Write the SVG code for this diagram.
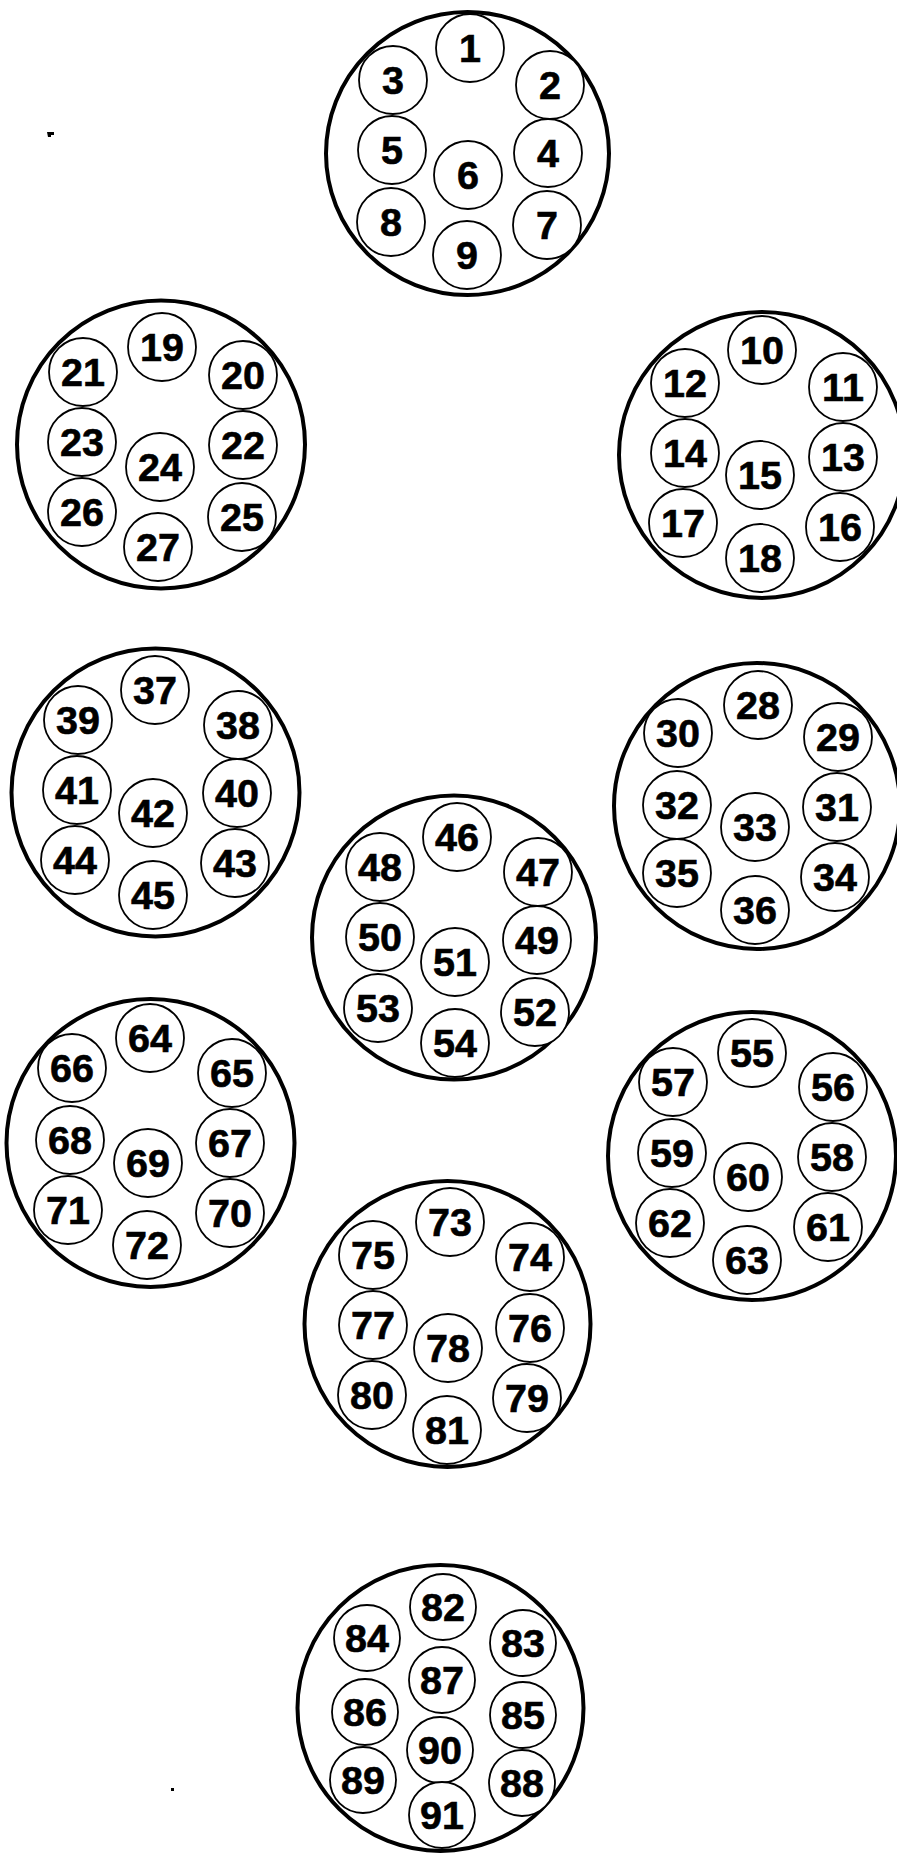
<svg xmlns="http://www.w3.org/2000/svg" width="897" height="1854" viewBox="0 0 897 1854">
<style>
.shell{fill:#fff;stroke:#000;stroke-width:4}
.pin circle{fill:#fff;stroke:#000;stroke-width:1.8}
.pin text{font-family:"Liberation Sans",Arial,sans-serif;font-weight:bold;font-size:39.5px;text-anchor:middle;fill:#000;stroke:#000;stroke-width:0.6}
</style>
<rect width="897" height="1854" fill="#fff"/>
<g id="connectors"></g>
<path d="M47,132 h7 v3 h-3 v2 h-3 z" fill="#000"/>
<rect x="171" y="1788" width="3" height="3" fill="#000"/>

<g id="conn1">
<circle class="shell" cx="467.5" cy="153.5" r="141.5"/>
<g id="p1" class="pin"><circle cx="470" cy="48" r="34"/><text x="470" y="62">1</text></g>
<g id="p2" class="pin"><circle cx="550" cy="85" r="34"/><text x="550" y="99">2</text></g>
<g id="p3" class="pin"><circle cx="393" cy="80" r="34"/><text x="393" y="94">3</text></g>
<g id="p4" class="pin"><circle cx="548" cy="153" r="34"/><text x="548" y="167">4</text></g>
<g id="p5" class="pin"><circle cx="392" cy="150" r="34"/><text x="392" y="164">5</text></g>
<g id="p6" class="pin"><circle cx="468" cy="175" r="34"/><text x="468" y="189">6</text></g>
<g id="p7" class="pin"><circle cx="547" cy="225" r="34"/><text x="547" y="239">7</text></g>
<g id="p8" class="pin"><circle cx="391" cy="222" r="34"/><text x="391" y="236">8</text></g>
<g id="p9" class="pin"><circle cx="467" cy="255" r="34"/><text x="467" y="269">9</text></g>
</g>

<g id="conn2">
<circle class="shell" cx="161" cy="444.5" r="144"/>
<g id="p19" class="pin"><circle cx="162" cy="347" r="34"/><text x="162" y="361">19</text></g>
<g id="p20" class="pin"><circle cx="243" cy="375" r="34"/><text x="243" y="389">20</text></g>
<g id="p21" class="pin"><circle cx="83" cy="372" r="34"/><text x="83" y="386">21</text></g>
<g id="p22" class="pin"><circle cx="243" cy="445" r="34"/><text x="243" y="459">22</text></g>
<g id="p23" class="pin"><circle cx="82" cy="442" r="34"/><text x="82" y="456">23</text></g>
<g id="p24" class="pin"><circle cx="160" cy="467" r="34"/><text x="160" y="481">24</text></g>
<g id="p25" class="pin"><circle cx="242" cy="517" r="34"/><text x="242" y="531">25</text></g>
<g id="p26" class="pin"><circle cx="82" cy="512" r="34"/><text x="82" y="526">26</text></g>
<g id="p27" class="pin"><circle cx="158" cy="547" r="34"/><text x="158" y="561">27</text></g>
</g>

<g id="conn3">
<circle class="shell" cx="762" cy="455" r="143"/>
<g id="p10" class="pin"><circle cx="762" cy="350" r="34"/><text x="762" y="364">10</text></g>
<g id="p11" class="pin"><circle cx="843" cy="387" r="34"/><text x="843" y="401">11</text></g>
<g id="p12" class="pin"><circle cx="685" cy="383" r="34"/><text x="685" y="397">12</text></g>
<g id="p13" class="pin"><circle cx="843" cy="457" r="34"/><text x="843" y="471">13</text></g>
<g id="p14" class="pin"><circle cx="685" cy="453" r="34"/><text x="685" y="467">14</text></g>
<g id="p15" class="pin"><circle cx="760" cy="475" r="34"/><text x="760" y="489">15</text></g>
<g id="p16" class="pin"><circle cx="840" cy="527" r="34"/><text x="840" y="541">16</text></g>
<g id="p17" class="pin"><circle cx="683" cy="523" r="34"/><text x="683" y="537">17</text></g>
<g id="p18" class="pin"><circle cx="760" cy="558" r="34"/><text x="760" y="572">18</text></g>
</g>

<g id="conn4">
<circle class="shell" cx="155.5" cy="792.5" r="144"/>
<g id="p37" class="pin"><circle cx="155" cy="690" r="34"/><text x="155" y="704">37</text></g>
<g id="p38" class="pin"><circle cx="238" cy="725" r="34"/><text x="238" y="739">38</text></g>
<g id="p39" class="pin"><circle cx="78" cy="720" r="34"/><text x="78" y="734">39</text></g>
<g id="p40" class="pin"><circle cx="237" cy="793" r="34"/><text x="237" y="807">40</text></g>
<g id="p41" class="pin"><circle cx="77" cy="790" r="34"/><text x="77" y="804">41</text></g>
<g id="p42" class="pin"><circle cx="153" cy="813" r="34"/><text x="153" y="827">42</text></g>
<g id="p43" class="pin"><circle cx="235" cy="863" r="34"/><text x="235" y="877">43</text></g>
<g id="p44" class="pin"><circle cx="75" cy="860" r="34"/><text x="75" y="874">44</text></g>
<g id="p45" class="pin"><circle cx="153" cy="895" r="34"/><text x="153" y="909">45</text></g>
</g>

<g id="conn5">
<circle class="shell" cx="757" cy="806" r="143"/>
<g id="p28" class="pin"><circle cx="758" cy="705" r="34"/><text x="758" y="719">28</text></g>
<g id="p29" class="pin"><circle cx="838" cy="737" r="34"/><text x="838" y="751">29</text></g>
<g id="p30" class="pin"><circle cx="678" cy="733" r="34"/><text x="678" y="747">30</text></g>
<g id="p31" class="pin"><circle cx="837" cy="807" r="34"/><text x="837" y="821">31</text></g>
<g id="p32" class="pin"><circle cx="677" cy="805" r="34"/><text x="677" y="819">32</text></g>
<g id="p33" class="pin"><circle cx="755" cy="827" r="34"/><text x="755" y="841">33</text></g>
<g id="p34" class="pin"><circle cx="835" cy="877" r="34"/><text x="835" y="891">34</text></g>
<g id="p35" class="pin"><circle cx="677" cy="873" r="34"/><text x="677" y="887">35</text></g>
<g id="p36" class="pin"><circle cx="755" cy="910" r="34"/><text x="755" y="924">36</text></g>
</g>

<g id="conn6">
<circle class="shell" cx="454" cy="937.5" r="142"/>
<g id="p46" class="pin"><circle cx="457" cy="837" r="34"/><text x="457" y="851">46</text></g>
<g id="p47" class="pin"><circle cx="538" cy="872" r="34"/><text x="538" y="886">47</text></g>
<g id="p48" class="pin"><circle cx="380" cy="867" r="34"/><text x="380" y="881">48</text></g>
<g id="p49" class="pin"><circle cx="537" cy="940" r="34"/><text x="537" y="954">49</text></g>
<g id="p50" class="pin"><circle cx="380" cy="937" r="34"/><text x="380" y="951">50</text></g>
<g id="p51" class="pin"><circle cx="455" cy="962" r="34"/><text x="455" y="976">51</text></g>
<g id="p52" class="pin"><circle cx="535" cy="1012" r="34"/><text x="535" y="1026">52</text></g>
<g id="p53" class="pin"><circle cx="378" cy="1008" r="34"/><text x="378" y="1022">53</text></g>
<g id="p54" class="pin"><circle cx="455" cy="1043" r="34"/><text x="455" y="1057">54</text></g>
</g>

<g id="conn7">
<circle class="shell" cx="150.5" cy="1143" r="144"/>
<g id="p64" class="pin"><circle cx="150" cy="1038" r="34"/><text x="150" y="1052">64</text></g>
<g id="p65" class="pin"><circle cx="232" cy="1073" r="34"/><text x="232" y="1087">65</text></g>
<g id="p66" class="pin"><circle cx="72" cy="1068" r="34"/><text x="72" y="1082">66</text></g>
<g id="p67" class="pin"><circle cx="230" cy="1143" r="34"/><text x="230" y="1157">67</text></g>
<g id="p68" class="pin"><circle cx="70" cy="1140" r="34"/><text x="70" y="1154">68</text></g>
<g id="p69" class="pin"><circle cx="148" cy="1163" r="34"/><text x="148" y="1177">69</text></g>
<g id="p70" class="pin"><circle cx="230" cy="1213" r="34"/><text x="230" y="1227">70</text></g>
<g id="p71" class="pin"><circle cx="68" cy="1210" r="34"/><text x="68" y="1224">71</text></g>
<g id="p72" class="pin"><circle cx="147" cy="1245" r="34"/><text x="147" y="1259">72</text></g>
</g>

<g id="conn8">
<circle class="shell" cx="752" cy="1156" r="144"/>
<g id="p55" class="pin"><circle cx="752" cy="1053" r="34"/><text x="752" y="1067">55</text></g>
<g id="p56" class="pin"><circle cx="833" cy="1087" r="34"/><text x="833" y="1101">56</text></g>
<g id="p57" class="pin"><circle cx="673" cy="1082" r="34"/><text x="673" y="1096">57</text></g>
<g id="p58" class="pin"><circle cx="832" cy="1157" r="34"/><text x="832" y="1171">58</text></g>
<g id="p59" class="pin"><circle cx="672" cy="1153" r="34"/><text x="672" y="1167">59</text></g>
<g id="p60" class="pin"><circle cx="748" cy="1177" r="34"/><text x="748" y="1191">60</text></g>
<g id="p61" class="pin"><circle cx="828" cy="1227" r="34"/><text x="828" y="1241">61</text></g>
<g id="p62" class="pin"><circle cx="670" cy="1223" r="34"/><text x="670" y="1237">62</text></g>
<g id="p63" class="pin"><circle cx="747" cy="1260" r="34"/><text x="747" y="1274">63</text></g>
</g>

<g id="conn9">
<circle class="shell" cx="447.5" cy="1324" r="143"/>
<g id="p73" class="pin"><circle cx="450" cy="1222" r="34"/><text x="450" y="1236">73</text></g>
<g id="p74" class="pin"><circle cx="530" cy="1257" r="34"/><text x="530" y="1271">74</text></g>
<g id="p75" class="pin"><circle cx="373" cy="1255" r="34"/><text x="373" y="1269">75</text></g>
<g id="p76" class="pin"><circle cx="530" cy="1328" r="34"/><text x="530" y="1342">76</text></g>
<g id="p77" class="pin"><circle cx="373" cy="1325" r="34"/><text x="373" y="1339">77</text></g>
<g id="p78" class="pin"><circle cx="448" cy="1348" r="34"/><text x="448" y="1362">78</text></g>
<g id="p79" class="pin"><circle cx="527" cy="1398" r="34"/><text x="527" y="1412">79</text></g>
<g id="p80" class="pin"><circle cx="372" cy="1395" r="34"/><text x="372" y="1409">80</text></g>
<g id="p81" class="pin"><circle cx="447" cy="1430" r="34"/><text x="447" y="1444">81</text></g>
</g>

<g id="conn10">
<circle class="shell" cx="440.5" cy="1708" r="143"/>
<g id="p82" class="pin"><circle cx="443" cy="1607" r="33"/><text x="443" y="1621">82</text></g>
<g id="p83" class="pin"><circle cx="523" cy="1643" r="33"/><text x="523" y="1657">83</text></g>
<g id="p84" class="pin"><circle cx="367" cy="1638" r="33"/><text x="367" y="1652">84</text></g>
<g id="p85" class="pin"><circle cx="523" cy="1715" r="33"/><text x="523" y="1729">85</text></g>
<g id="p86" class="pin"><circle cx="365" cy="1712" r="33"/><text x="365" y="1726">86</text></g>
<g id="p87" class="pin"><circle cx="442" cy="1680" r="33"/><text x="442" y="1694">87</text></g>
<g id="p88" class="pin"><circle cx="522" cy="1783" r="33"/><text x="522" y="1797">88</text></g>
<g id="p89" class="pin"><circle cx="363" cy="1780" r="33"/><text x="363" y="1794">89</text></g>
<g id="p90" class="pin"><circle cx="440" cy="1750" r="33"/><text x="440" y="1764">90</text></g>
<g id="p91" class="pin"><circle cx="442" cy="1815" r="33"/><text x="442" y="1829">91</text></g>
</g>
</svg>
